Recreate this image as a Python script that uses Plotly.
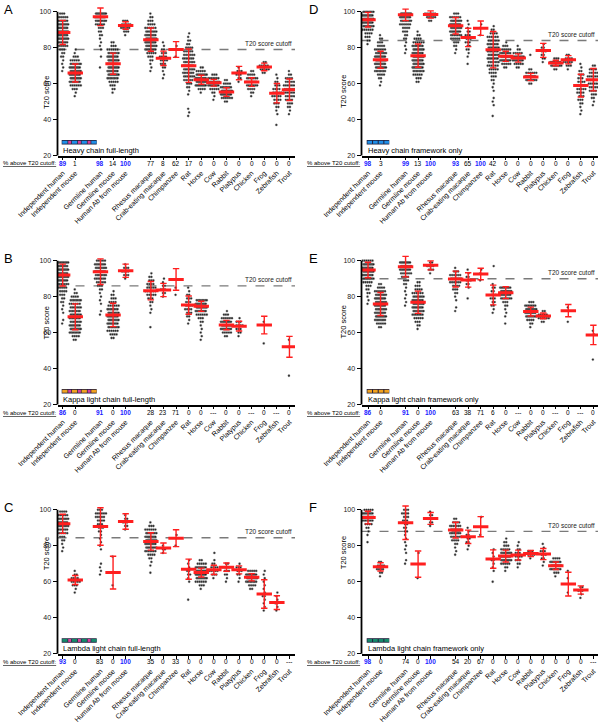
import plotly.graph_objects as go

# ---------------- data ----------------
CATEGORIES = ["Independent human", "Independent mouse", "Germline human", "Germline mouse",
              "Human Ab from mouse", "Rhesus macaque", "Crab-eating macaque", "Chimpanzee",
              "Rat", "Horse", "Cow", "Rabbit", "Platypus", "Chicken", "Frog", "Zebrafish", "Trout"]
CAT_POS = [0, 1, 3, 4, 5, 7, 8, 9, 10, 11, 12, 13, 14, 15, 16, 17, 18]
BIN = 2  # score bin width of the read-off distributions

# Panel A: Heavy chain full-length
A_CUTOFF = 79
A_MEAN = [88.5, 65.9, 97.2, 71.1, 92.4, 84.5, 74.1, 79.0, 70.0, 62.2, 60.5, 55.3, 65.9, 60.9, 69.3, 54.7, 56.6]
A_SD = [6.7, 5.0, 4.9, 5.9, 2.1, 6.5, 4.0, 4.4, 9.3, 2.5, 1.9, 2.4, 3.7, 2.4, 2.1, 5.4, 6.0]
A_PCT = [89, 1, 98, 14, 100, 77, 8, 62, 17, 0, 0, 0, 0, 0, 0, 0, 0]
A_LO = [67, 53, 69, 55, 87, 67, 63, 75, 42, 55, 51, 50, 61, 53, 66, 37, 43]
A_COUNTS = [
    [1, 1, 1, 1, 2, 2, 3, 5, 8, 10, 12, 12, 12, 10, 8, 5, 3],
    [1, 1, 3, 6, 9, 11, 12, 12, 10, 8, 5, 3, 1, 1],
    [1, 0, 0, 1, 0, 1, 1, 1, 1, 2, 2, 3, 5, 8, 12, 12],
    [1, 2, 3, 5, 8, 12, 12, 12, 12, 12, 10, 8, 6, 3, 2],
    [1, 3, 5, 5, 3],
    [1, 1, 1, 2, 3, 5, 8, 10, 11, 11, 10, 8, 6, 4, 3, 2, 1],
    [1, 1, 1, 2, 3, 4, 4, 3, 2, 1, 1],
    [1, 0, 1, 1],
    [1, 1, 1, 0, 0, 0, 1, 1, 2, 3, 5, 7, 8, 8, 8, 8, 7, 6, 5, 4, 2, 2, 1, 1],
    [1, 4, 10, 12, 12, 10, 5, 2],
    [1, 1, 2, 5, 9, 10, 7, 3],
    [2, 6, 12, 12, 8, 4, 2],
    [1, 2, 3, 3, 1],
    [1, 2, 4, 7, 9, 7, 4, 2],
    [2, 5, 5, 2],
    [1, 0, 0, 1, 1, 2, 3, 4, 5, 5, 4, 3, 2, 1, 1],
    [1, 1, 2, 3, 4, 5, 6, 6, 6, 5, 4, 2, 1],
]

# Panel B: Kappa light chain full-length
B_CUTOFF = 86
B_MEAN = [92.0, 68.8, 93.9, 69.8, 94.4, 83.3, 83.7, 89.6, 75.3, 74.6, None, 64.2, 63.6, None, 64.2, None, 52.1]
B_SD = [6.1, 7.2, 7.1, 6.5, 3.7, 5.1, 3.7, 6.0, 5.1, 2.8, 0, 2.6, 2.7, 0, 4.9, 0, 5.8]
B_PCT = [86, 0, 91, 0, 100, 28, 23, 71, 0, 0, None, 0, 0, None, 0, None, 0]
B_LO = [65, 56, 70, 57, 90, 63, 80, 81, 65, 56, None, 58, 58, None, 54, None, 36]
B_COUNTS = [
    [1, 1, 0, 1, 1, 1, 2, 2, 3, 4, 5, 7, 10, 12, 12, 12, 10, 8],
    [2, 4, 8, 12, 9, 8, 8, 8, 8, 7, 6, 8, 4, 2, 1],
    [1, 1, 0, 1, 1, 1, 1, 2, 3, 5, 7, 8, 9, 9, 9, 5],
    [2, 4, 6, 8, 9, 10, 10, 9, 8, 6, 4, 3, 2, 1],
    [1, 3, 4, 3, 1],
    [1, 0, 0, 0, 1, 1, 1, 2, 3, 5, 6, 5, 4, 3, 2, 1],
    [1, 2, 3, 2, 1, 1],
    [1, 0, 1],
    [1, 1, 2, 3, 4, 4, 3, 3, 2, 1, 1],
    [1, 1, 1, 1, 1, 2, 3, 6, 10, 12, 12, 8],
    [],
    [2, 5, 10, 12, 10, 6, 3, 1],
    [1, 2, 3, 4, 3, 1],
    [],
    [1, 0, 0, 0, 0, 0, 1],
    [],
    [1, 0, 0, 0, 0, 0, 0, 0, 1, 0, 1],
]

# Panel C: Lambda light chain full-length
C_CUTOFF = 84.5
C_MEAN = [92.2, 61.0, 90.7, 65.1, 93.5, 82.4, 78.7, 84.2, 67.0, 65.1, 66.6, 68.1, 66.6, 62.5, 53.2, 48.4, None]
C_SD = [5.3, 2.5, 10.4, 9.1, 4.3, 4.8, 2.8, 4.7, 5.6, 2.5, 2.6, 2.3, 2.2, 2.0, 7.9, 3.8, 0]
C_PCT = [93, 0, 83, 0, 100, 35, 0, 33, 0, 0, 0, 0, 0, 0, 0, 0, None]
C_LO = [77, 54, 64, 58, 89, 65, 76, 80, 50, 56, 62, 60, 60, 56, 44, 44, None]
C_COUNTS = [
    [1, 1, 1, 2, 3, 5, 7, 9, 10, 9, 7, 4],
    [1, 1, 3, 5, 4, 2, 1],
    [1, 1, 1, 1, 0, 0, 0, 1, 1, 1, 1, 1, 2, 3, 3, 4, 5, 6, 3],
    [1, 0, 0, 0, 0, 0, 0, 0, 1],
    [1, 2, 3, 2, 1],
    [1, 0, 1, 1, 2, 4, 7, 9, 11, 11, 10, 8, 6, 3, 1],
    [1, 2, 1],
    [1, 0, 0, 1],
    [1, 0, 0, 0, 0, 1, 1, 2, 2, 1, 1, 1],
    [1, 3, 6, 10, 12, 12, 9, 5, 2],
    [1, 3, 5, 4, 2, 1, 0, 1],
    [1, 1, 2, 3, 4, 2],
    [1, 1, 2, 3, 3, 1],
    [2, 4, 8, 12, 10, 5],
    [1, 1, 1, 1, 2, 1, 1, 1, 1, 1, 1, 1],
    [1, 1, 2, 1, 1, 1],
    [],
]

# Panel D: Heavy chain framework only
D_CUTOFF = 84
D_MEAN = [95.6, 73.3, 98.3, 75.6, 98.5, 92.2, 85.7, 90.9, 78.9, 75.2, 74.3, 63.7, 78.5, 71.5, 73.3, 58.9, 62.2]
D_SD = [4.1, 4.7, 3.2, 6.5, 2.0, 4.6, 5.1, 4.0, 10.1, 2.8, 2.3, 2.0, 3.9, 1.5, 2.3, 6.3, 6.2]
D_PCT = [98, 3, 99, 13, 100, 93, 65, 100, 42, 0, 0, 0, 0, 0, 0, 0, 0]
D_LO = [82, 59, 77, 61, 95, 77, 71, 87, 42, 69, 69, 60, 72, 68, 68, 43, 48]
D_COUNTS = [
    [1, 2, 3, 4, 6, 9, 12, 12, 12, 8],
    [1, 1, 2, 4, 8, 10, 12, 12, 11, 9, 6, 4, 3, 2, 1],
    [1, 1, 1, 1, 2, 2, 3, 4, 6, 8, 12, 12],
    [2, 3, 5, 8, 11, 12, 12, 12, 11, 10, 8, 6, 4, 2, 1],
    [2, 5, 6],
    [1, 1, 2, 3, 5, 7, 9, 11, 11, 9, 6, 3],
    [1, 0, 1, 1, 2, 2, 3, 3, 3, 2, 1, 1, 1],
    [1, 0, 1, 1],
    [1, 0, 0, 1, 1, 1, 0, 1, 1, 1, 2, 3, 4, 5, 6, 7, 8, 8, 8, 8, 8, 7, 6, 4, 2, 1],
    [2, 5, 10, 12, 9, 5, 3, 1],
    [2, 5, 9, 9, 5, 2, 1],
    [2, 8, 12, 6, 2, 0, 0, 0, 1],
    [1, 2, 2, 3, 2, 1],
    [2, 8, 10, 3],
    [1, 3, 5, 4, 2],
    [1, 1, 1, 2, 3, 3, 4, 5, 5, 4, 3, 3, 2, 1, 1],
    [1, 1, 2, 3, 4, 5, 5, 6, 6, 5, 4, 2],
]

# Panel E: Kappa light chain framework only
E_CUTOFF = 90
E_MEAN = [94.8, 75.9, 96.7, 76.9, 97.4, 89.8, 89.3, 92.6, 80.9, 82.2, None, 71.7, 69.3, None, 72.2, None, 58.7]
E_SD = [4.3, 6.4, 5.7, 6.2, 2.5, 4.4, 4.0, 3.2, 5.5, 3.3, 0, 2.5, 1.6, 0, 3.4, 0, 5.4]
E_PCT = [86, 0, 91, 0, 100, 63, 38, 71, 6, 0, None, 0, 0, None, 0, None, 0]
E_LO = [76, 63, 75, 62, 93, 72, 79, 89, 71, 65, None, 63, 66, None, 66, None, 45]
E_COUNTS = [
    [1, 1, 1, 2, 2, 3, 5, 8, 11, 12, 12, 12, 6],
    [2, 5, 9, 12, 10, 9, 9, 10, 11, 9, 6, 4, 2],
    [1, 1, 1, 1, 1, 1, 2, 3, 4, 6, 9, 11, 9],
    [1, 2, 3, 5, 7, 9, 10, 10, 9, 8, 6, 4, 3, 2],
    [1, 3, 4, 2],
    [1, 1, 0, 1, 1, 2, 3, 4, 6, 8, 6, 3, 1],
    [1, 0, 0, 1, 2, 3, 2, 1, 1],
    [1, 0, 1, 1],
    [1, 1, 2, 2, 3, 3, 2, 2, 1, 0, 0, 0, 0, 1],
    [1, 0, 1, 1, 1, 2, 3, 7, 11, 12, 8],
    [],
    [1, 2, 4, 9, 12, 12, 7, 3],
    [2, 6, 5, 2],
    [],
    [1, 0, 0, 0, 1],
    [],
    [1, 0, 0, 0, 0, 0, 0, 1, 1],
]

# Panel F: Lambda light chain framework only
F_CUTOFF = 88
F_MEAN = [95.7, 68.3, 92.8, 69.8, 95.2, 88.7, 85.0, 90.6, 72.6, 74.3, 74.8, 75.7, 75.4, 68.9, 58.7, 55.4, None]
F_SD = [3.5, 2.3, 9.3, 7.3, 3.3, 4.4, 3.7, 5.6, 5.1, 3.3, 2.8, 1.7, 3.1, 2.1, 6.6, 2.3, 0]
F_PCT = [98, 0, 74, 0, 100, 54, 20, 67, 0, 0, 0, 0, 0, 0, 0, 0, None]
F_LO = [82, 63, 70, 62, 91, 75, 78, 86, 60, 66, 68, 73, 69, 63, 54, 51, None]
F_COUNTS = [
    [1, 0, 1, 1, 2, 4, 7, 9, 9, 5],
    [1, 2, 4, 4, 2],
    [1, 1, 0, 1, 1, 1, 1, 1, 1, 2, 2, 2, 3, 3, 4, 3],
    [1, 0, 0, 0, 0, 0, 0, 1],
    [1, 2, 3, 2, 1],
    [1, 1, 1, 2, 4, 6, 8, 9, 7, 4, 2],
    [1, 1, 2, 2, 2, 1, 1],
    [1, 0, 0, 0, 0, 1],
    [1, 0, 0, 1, 1, 1, 2, 1, 1, 1],
    [1, 2, 5, 10, 12, 10, 5, 3, 2, 1],
    [1, 2, 3, 4, 3, 2, 1, 1],
    [1, 4, 3],
    [1, 1, 2, 3, 3, 1, 1],
    [1, 3, 8, 12, 10, 4],
    [1, 0, 0, 0, 1, 0, 1],
    [1, 1, 3, 2],
    [],
]

Y_TICKS = [20, 40, 60, 80, 100]

# ---------------- layout geometry (pixels) ----------------
W, H = 600, 725
COLS = [dict(x0=57.5, x1=295.0, r=[-0.41, 18.44], lx=61.7, ytitle=39.5, letter=2),
        dict(x0=361.5, x1=598.0, r=[-0.52, 18.37], lx=366.7, ytitle=343.0, letter=307)]
ROWS = [dict(y20=155.5, y100=11.8), dict(y20=404.5, y100=260.7), dict(y20=653.7, y100=509.8)]
YR = [20, 103.5]

BLUE, PINK, ORANGE, GREEN, EDGE = "#1f8fe8", "#d8409c", "#f2a21e", "#168a6c", "#20203c"
RED = "#ff1f1f"

PANELS = [
    ("A", 0, 0, A_MEAN, A_SD, A_PCT, A_LO, A_COUNTS, A_CUTOFF, "Heavy chain full-length", BLUE, True),
    ("B", 0, 1, B_MEAN, B_SD, B_PCT, B_LO, B_COUNTS, B_CUTOFF, "Kappa light chain full-length", ORANGE, True),
    ("C", 0, 2, C_MEAN, C_SD, C_PCT, C_LO, C_COUNTS, C_CUTOFF, "Lambda light chain full-length", GREEN, True),
    ("D", 1, 0, D_MEAN, D_SD, D_PCT, D_LO, D_COUNTS, D_CUTOFF, "Heavy chain framework only", BLUE, False),
    ("E", 1, 1, E_MEAN, E_SD, E_PCT, E_LO, E_COUNTS, E_CUTOFF, "Kappa light chain framework only", ORANGE, False),
    ("F", 1, 2, F_MEAN, F_SD, F_PCT, F_LO, F_COUNTS, F_CUTOFF, "Lambda light chain framework only", GREEN, False),
]

FONT = "Liberation Sans, Arial, Helvetica, sans-serif"


def px(x):
    return x / W


def py(y):
    return 1 - y / H


fig = go.Figure()
shapes, annotations = [], []
layout = dict(width=W, height=H, margin=dict(l=0, r=0, t=0, b=0, autoexpand=False), showlegend=False,
              plot_bgcolor="white", paper_bgcolor="white", font=dict(family=FONT, color="black"))

for i, (letter, ci, ri, means, sds, pcts, los, counts, cutoff, label, color, full) in enumerate(PANELS):
    n = i + 1
    xa, ya = ("x", "y") if n == 1 else (f"x{n}", f"y{n}")
    col, row = COLS[ci], ROWS[ri]
    k = (row["y20"] - row["y100"]) / 80.0
    top = row["y100"] - (YR[1] - 100) * k

    # beeswarm-style points (rows at each bin value)
    xs, ys = [], []
    for pos, lo, cnt in zip(CAT_POS, los, counts):
        if lo is None:
            continue
        for j, c in enumerate(cnt):
            if c == 0:
                continue
            v = lo + BIN * j
            sp = 0.16 if c == 1 else min(0.16, 0.8 / (c - 1))
            shift = 0.04 if j % 2 else -0.04
            for q in range(c):
                xs.append(pos + shift + (q - (c - 1) / 2) * sp)
                ys.append(v)
    fig.add_trace(go.Scatter(x=xs, y=ys, mode="markers", xaxis=xa, yaxis=ya, hoverinfo="skip",
                             marker=dict(size=2.3, color="rgba(20,20,20,0.92)",
                                         line=dict(width=0.7, color="rgba(160,160,160,0.5)"))))
    # mean +/- SD
    fig.add_trace(go.Scatter(x=CAT_POS, y=means, mode="markers", xaxis=xa, yaxis=ya, hoverinfo="skip",
                             marker=dict(symbol="line-ew", size=11, line=dict(width=3, color=RED)),
                             error_y=dict(type="data", array=sds, color=RED, thickness=1.4, width=3.2)))

    xk = "xaxis" if n == 1 else f"xaxis{n}"
    yk = "yaxis" if n == 1 else f"yaxis{n}"
    layout[xk] = dict(domain=[px(col["x0"]), px(col["x1"])], range=col["r"], anchor=ya, automargin=False,
                      tickmode="array", tickvals=CAT_POS, ticktext=CATEGORIES, tickangle=-45,
                      ticks="outside", ticklen=3, tickwidth=1, tickcolor="black",
                      showline=True, linewidth=1.6, linecolor="black", showgrid=False, zeroline=False,
                      tickfont=dict(size=7.0, family=FONT, color="black"), ticklabelstandoff=6)
    layout[yk] = dict(domain=[py(row["y20"]), py(top)], range=YR, anchor=xa, automargin=False,
                      tickmode="array", tickvals=Y_TICKS, ticks="outside", ticklen=4, tickwidth=1.4,
                      tickcolor="black", showline=False, showgrid=False, zeroline=False,
                      tickfont=dict(size=7, family=FONT, color="#222"))

    # y axis line 20..100
    shapes.append(dict(type="line", xref="paper", yref="paper", x0=px(col["x0"]), x1=px(col["x0"]),
                       y0=py(row["y20"]), y1=py(row["y100"]), line=dict(color="black", width=1.8)))
    # cutoff line
    ycut = row["y20"] - (cutoff - 20) * k
    shapes.append(dict(type="line", xref="paper", yref="paper", x0=px(col["x0"]), x1=px(col["x1"]),
                       y0=py(ycut), y1=py(ycut), layer="below",
                       line=dict(color="#7a7a7a", width=1.4, dash="dash")))
    annotations.append(dict(text="T20 score cutoff", xref="paper", yref="paper", x=px(col["x1"] - 1),
                            y=py(ycut - 0.5), xanchor="right", yanchor="bottom", showarrow=False,
                            font=dict(size=6.5, family=FONT, color="#222")))

    # panel letter
    annotations.append(dict(text=letter, xref="paper", yref="paper", x=px(col["letter"]),
                            y=py(row["y100"] - 2.5), xanchor="left", yanchor="middle", showarrow=False,
                            font=dict(size=13, family=FONT, color="black")))
    # y title
    annotations.append(dict(text="T20 score", xref="paper", yref="paper", x=px(col["ytitle"]),
                            y=py(row["y20"] - 82), textangle=-90, showarrow=False,
                            font=dict(size=7.5, family=FONT, color="black")))

    # % above cutoff row
    yrow = row["y20"] + 8
    annotations.append(dict(text="<u>% above T20 cutoff:</u>", xref="paper", yref="paper",
                            x=px(col["x0"] + 0.5), y=py(yrow), xanchor="right", yanchor="middle",
                            showarrow=False, font=dict(size=6.0, family=FONT, color="black")))
    for pos, pct in zip(CAT_POS, pcts):
        if pct is None:
            txt, clr = "---", "black"
        elif pct >= 85:
            txt, clr = f"<b>{pct}</b>", "#1a1aff"
        else:
            txt, clr = str(pct), "black"
        annotations.append(dict(text=txt, xref=xa, yref="paper", x=pos, y=py(yrow), xanchor="center",
                                yanchor="middle", showarrow=False,
                                font=dict(size=6.5, family=FONT, color=clr)))

    # chain legend bar
    lx = col["lx"]
    ytop, ybot = row["y20"] - 15.5, row["y20"] - 11.0
    if full:
        wbar = 35.0
        shapes.append(dict(type="rect", xref="paper", yref="paper", x0=px(lx), x1=px(lx + wbar),
                           y0=py(ybot), y1=py(ytop), fillcolor=EDGE, line=dict(width=0)))
        segs = [6.0, 3.7, 6.0, 3.7, 6.0, 3.7, 6.0]
        xx = lx
        for s_i, s in enumerate(segs):
            c = color if s_i % 2 == 0 else PINK
            shapes.append(dict(type="rect", xref="paper", yref="paper", x0=px(xx + 0.5), x1=px(xx + s - 0.2),
                               y0=py(ybot - 0.8), y1=py(ytop + 0.8), fillcolor=c, line=dict(width=0)))
            xx += s
    else:
        wbar = 22.6
        shapes.append(dict(type="rect", xref="paper", yref="paper", x0=px(lx), x1=px(lx + wbar),
                           y0=py(ybot), y1=py(ytop), fillcolor=EDGE, line=dict(width=0)))
        seg = wbar / 4
        for s_i in range(4):
            x0 = lx + s_i * seg
            shapes.append(dict(type="rect", xref="paper", yref="paper", x0=px(x0 + 0.7), x1=px(x0 + seg - 0.3),
                               y0=py(ybot - 0.8), y1=py(ytop + 0.8), fillcolor=color, line=dict(width=0)))
    annotations.append(dict(text=label, xref="paper", yref="paper", x=px(lx - 1), y=py(row["y20"] - 5),
                            xanchor="left", yanchor="middle", showarrow=False,
                            font=dict(size=7.5, family=FONT, color="black")))

layout["shapes"] = shapes
layout["annotations"] = annotations
fig.update_layout(**layout)
fig.write_html("out.html", config={"displayModeBar": False},
               post_script="document.body.style.margin='0px';document.body.style.overflow='hidden';")
